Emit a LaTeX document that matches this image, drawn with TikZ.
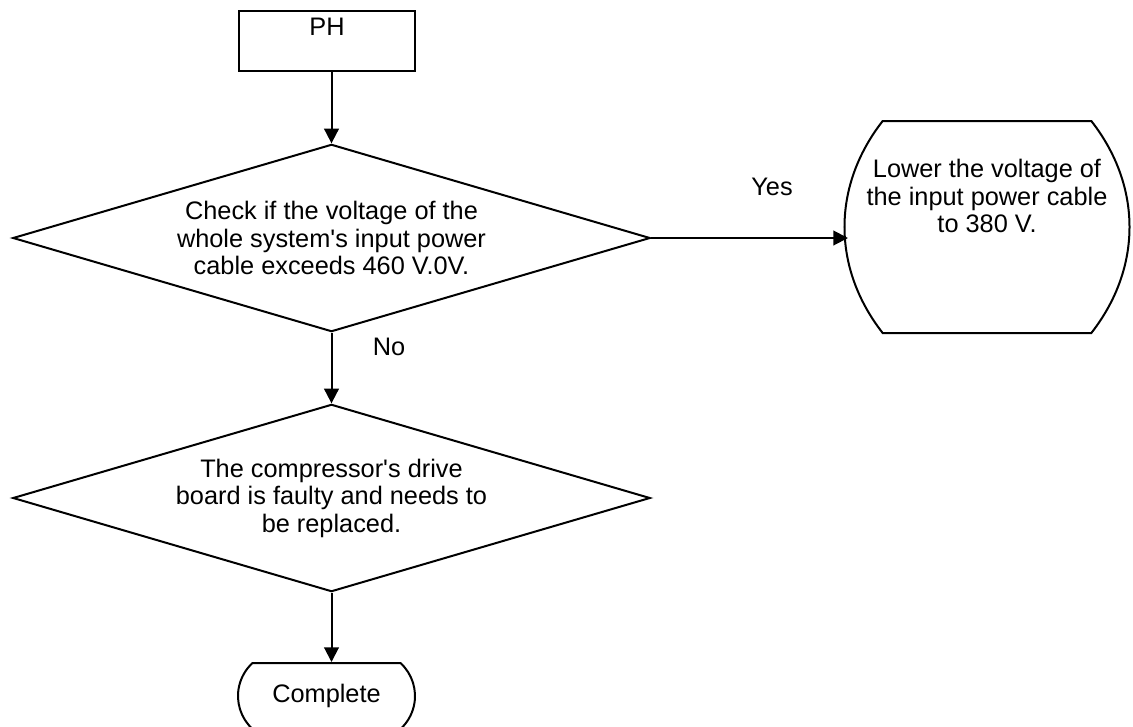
\documentclass[tikz,border=0pt]{standalone}
\usepackage{fontspec}
\setmainfont{Liberation Sans}
\usetikzlibrary{shapes.geometric,shapes.misc,arrows.meta}

\begin{document}
\begin{tikzpicture}[x=0.75pt, y=-0.75pt, line width=1.5pt,
      every node/.style={font=\fontsize{19pt}{20.6pt}\selectfont, align=center, inner sep=1pt},
      startbox/.style={draw, rectangle, minimum width=132pt, minimum height=45pt},
      ask/.style={draw, diamond, shape aspect=3.4, minimum width=478pt, minimum height=140.5pt},
      endbox/.style={draw, rounded rectangle, rounded rectangle arc length=#1, inner xsep=0pt},
      arr/.style={-{Triangle[length=11pt, width=11pt]}}]
      \useasboundingbox (0,0) rectangle (1133,726);
      \node[startbox] (ph) at (327,41) {PH\\~};
      \node[ask] (chk) at (331.5,238) {Check if the voltage of the\\whole system\textquotesingle s input power\\cable exceeds 460 V.0V.};
      \node[minimum width=155pt, minimum height=157.5pt] (fix) at (987,227)
         {\makebox[120pt]{\begin{tabular}{@{}c@{}}Lower the voltage of\\the input power cable\\to 380 V.\\~\\~\end{tabular}}};
      \draw (fix.north west) to[bend right=38] (fix.south west) -- (fix.south east)
         to[bend right=38] (fix.north east) -- cycle;
      \coordinate (fixin) at ([xshift=-26pt]fix.west);
      \node[ask] (drv) at (331.5,498) {The compressor\textquotesingle s drive\\board is faulty and needs to\\be replaced.};
      \node[endbox=95, minimum width=132.75pt, minimum height=49.5pt] (done) at (326.5,696) {Complete};
      \node (yes) at (772,187) {Yes};
      \node (no) at (389,347) {No};
      \draw[arr] (ph.south -| chk.north) -- (chk.north);
      \draw[arr] (chk.east) -- (chk.east -| fixin);
      \draw[arr] (chk.south) -- (drv.north);
      \draw[arr] (drv.south) -- (done.north -| drv.south);
   \end{tikzpicture}
\end{document}
